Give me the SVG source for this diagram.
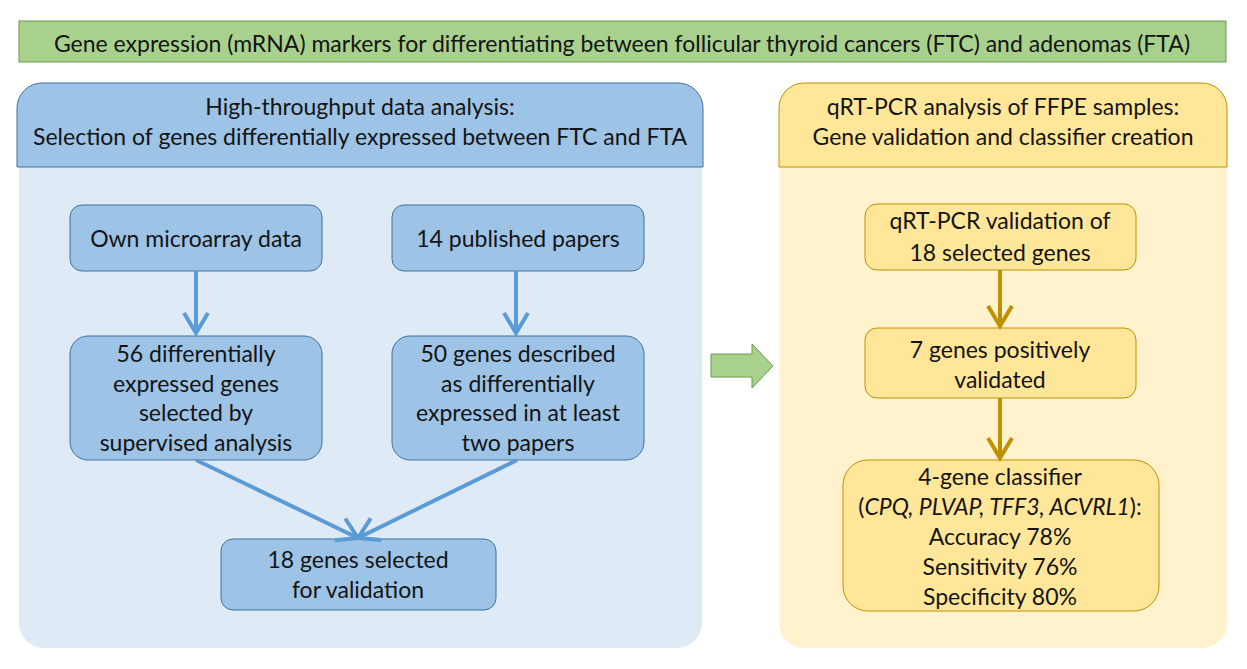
<svg xmlns="http://www.w3.org/2000/svg" width="1247" height="669" viewBox="0 0 1247 669">
<defs>
<style>
text{font-family:Lato,"Open Sans","Liberation Sans",sans-serif;fill:#141414;text-anchor:middle}
.t{font-size:23px}
.h{font-size:23px}
.n{font-size:23px}
.bn{fill:#9dc3e6;stroke:#41719c;stroke-width:1}
.yn{fill:#ffe699;stroke:#bf9000;stroke-width:1}
.ba{stroke:#5b9bd5;stroke-width:4;fill:none}
.ya{stroke:#bf9000;stroke-width:4;fill:none}
</style>
<marker id="mb" markerUnits="userSpaceOnUse" viewBox="-24 -14 28 28" markerWidth="28" markerHeight="28" refX="0" refY="0" orient="auto">
<path d="M-20,-12 L0,0 L-20,12" fill="none" stroke="#5b9bd5" stroke-width="4"/>
</marker>
<marker id="my" markerUnits="userSpaceOnUse" viewBox="-24 -14 28 28" markerWidth="28" markerHeight="28" refX="0" refY="0" orient="auto">
<path d="M-20,-12 L0,0 L-20,12" fill="none" stroke="#bf9000" stroke-width="4"/>
</marker>
</defs>
<rect width="1247" height="669" fill="#ffffff"/>

<g id="title">
<rect x="19" y="21" width="1207" height="41" fill="#a9d18e" stroke="#6b9a4c" stroke-width="1"/>
<text class="t" x="622" y="52">Gene expression (mRNA) markers for differentiating between follicular thyroid cancers (FTC) and adenomas (FTA)</text>
</g>

<g id="left-panel">
<path d="M19,167 H702 V623 a25,25 0 0 1 -25,25 H44 a25,25 0 0 1 -25,-25 Z" fill="#deebf7"/>
<path d="M17,167 V108 a25,25 0 0 1 25,-25 H678 a25,25 0 0 1 25,25 V167 Z" fill="#9dc3e6" stroke="#41719c" stroke-width="1"/>
<text class="h" x="360" y="115">High-throughput data analysis:</text>
<text class="h" x="360" y="145">Selection of genes differentially expressed between FTC and FTA</text>
</g>

<g id="right-panel">
<path d="M779,167 H1227 V623 a25,25 0 0 1 -25,25 H804 a25,25 0 0 1 -25,-25 Z" fill="#fff2cc"/>
<path d="M779,167 V108 a25,25 0 0 1 25,-25 H1202 a25,25 0 0 1 25,25 V167 Z" fill="#ffe699" stroke="#bf9000" stroke-width="1"/>
<text class="h" x="1003" y="115">qRT-PCR analysis of FFPE samples:</text>
<text class="h" x="1003" y="145">Gene validation and classifier creation</text>
</g>

<g id="n-own">
<rect class="bn" x="70" y="205" width="252" height="66" rx="12"/>
<text class="n" x="196" y="247">Own microarray data</text>
</g>
<g id="n-papers">
<rect class="bn" x="392" y="205" width="252" height="66" rx="12"/>
<text class="n" x="518" y="247">14 published papers</text>
</g>
<g id="n-56">
<rect class="bn" x="70" y="336" width="252" height="124" rx="18"/>
<text class="n" x="196" y="362">56 differentially</text>
<text class="n" x="196" y="392">expressed genes</text>
<text class="n" x="196" y="421">selected by</text>
<text class="n" x="196" y="451">supervised analysis</text>
</g>
<g id="n-50">
<rect class="bn" x="392" y="336" width="252" height="124" rx="18"/>
<text class="n" x="518" y="362">50 genes described</text>
<text class="n" x="518" y="392">as differentially</text>
<text class="n" x="518" y="421">expressed in at least</text>
<text class="n" x="518" y="451">two papers</text>
</g>
<g id="n-18">
<rect class="bn" x="221" y="539" width="275" height="71" rx="12"/>
<text class="n" x="358" y="568">18 genes selected</text>
<text class="n" x="358" y="598">for validation</text>
</g>

<g id="n-qrt">
<rect class="yn" x="865" y="204" width="271" height="66" rx="12"/>
<text class="n" x="1000" y="229">qRT-PCR validation of</text>
<text class="n" x="1000" y="261">18 selected genes</text>
</g>
<g id="n-7">
<rect class="yn" x="865" y="328" width="271" height="70" rx="12"/>
<text class="n" x="1000" y="358">7 genes positively</text>
<text class="n" x="1000" y="388">validated</text>
</g>
<g id="n-class">
<rect class="yn" x="843" y="460" width="316" height="151" rx="25"/>
<text class="n" x="1000" y="485">4-gene classifier</text>
<text class="n" x="1000" y="515">(<tspan font-style="italic">CPQ, PLVAP, TFF3, ACVRL1</tspan>):</text>
<text class="n" x="1000" y="545">Accuracy 78%</text>
<text class="n" x="1000" y="575">Sensitivity 76%</text>
<text class="n" x="1000" y="605">Specificity 80%</text>
</g>

<g id="connectors">
<line class="ba" x1="196" y1="271" x2="196" y2="333" marker-end="url(#mb)"/>
<line class="ba" x1="516" y1="271" x2="516" y2="333" marker-end="url(#mb)"/>
<line class="ba" x1="196" y1="460" x2="358" y2="538" marker-end="url(#mb)"/>
<line class="ba" x1="517" y1="460" x2="358" y2="538" marker-end="url(#mb)"/>
<line class="ya" x1="1000" y1="270" x2="1000" y2="326" marker-end="url(#my)"/>
<line class="ya" x1="1000" y1="398" x2="1000" y2="458" marker-end="url(#my)"/>
<path d="M711,354 H752 V344 L773,366 L752,388 V377 H711 Z" fill="#a9d18e" stroke="#6b9a4c" stroke-width="1"/>
</g>
</svg>
